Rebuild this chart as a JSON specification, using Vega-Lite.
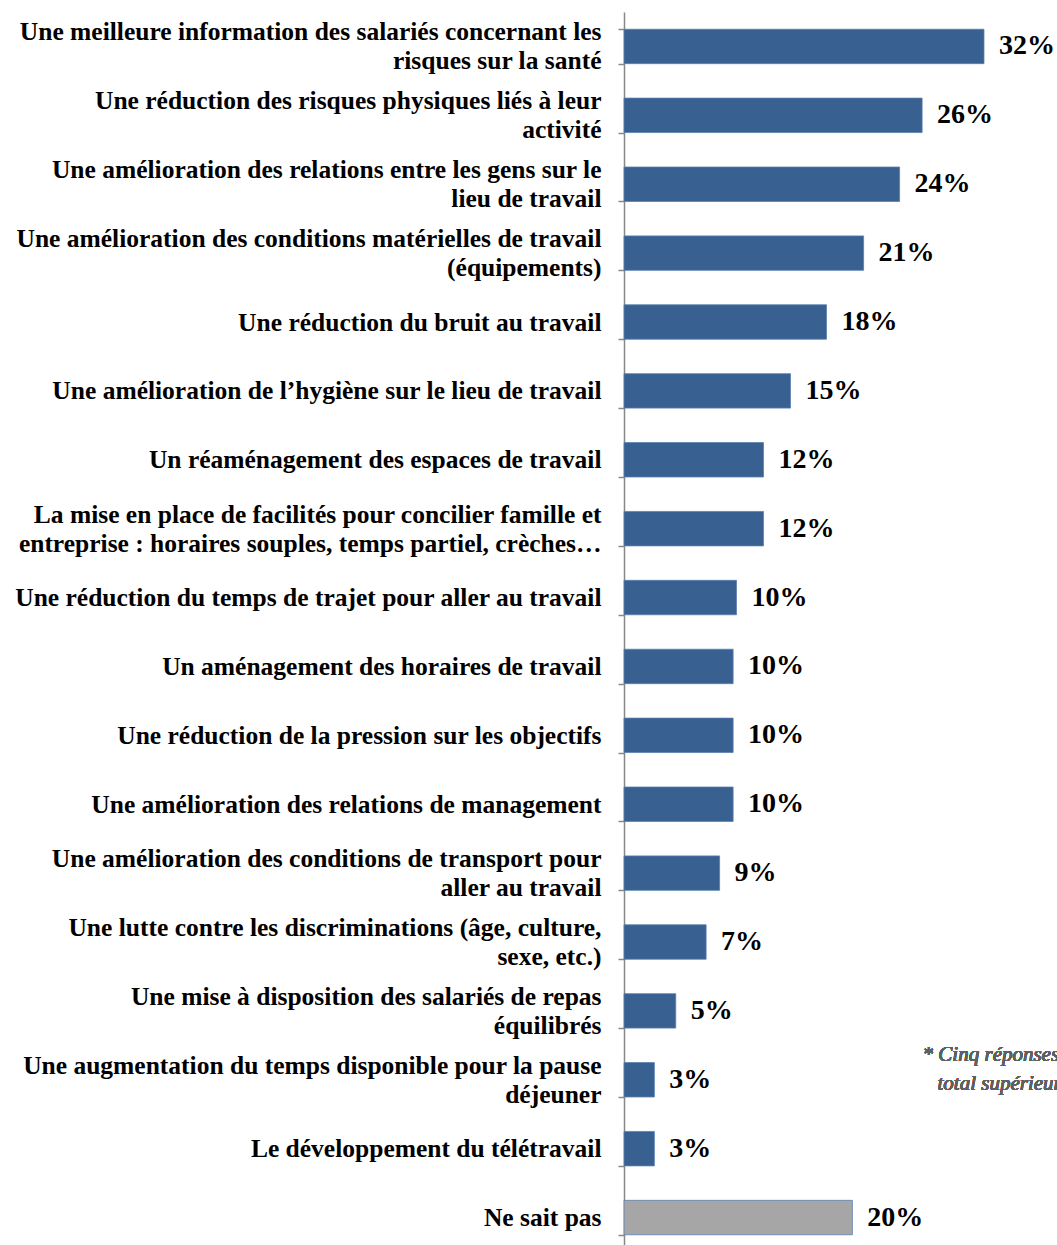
{
  "$schema": "https://vega.github.io/schema/vega-lite/v6.json",
  "autosize": {"type": "none"},
  "padding": {"left": 624, "top": 12, "right": 0, "bottom": 0},
  "width": 433,
  "height": 1233,
  "background": "white",
  "config": {"view": {"stroke": null}},
  "data": {
    "values": [
      {"cat": "Une meilleure information des salariés concernant les|risques sur la santé", "value": 32.0, "label": "32%", "type": "item"},
      {"cat": "Une réduction des risques physiques liés à leur|activité", "value": 26.5, "label": "26%", "type": "item"},
      {"cat": "Une amélioration des relations entre les gens sur le|lieu de travail", "value": 24.5, "label": "24%", "type": "item"},
      {"cat": "Une amélioration des conditions matérielles de travail|(équipements)", "value": 21.3, "label": "21%", "type": "item"},
      {"cat": "Une réduction du bruit au travail", "value": 18.0, "label": "18%", "type": "item"},
      {"cat": "Une amélioration de l’hygiène sur le lieu de travail", "value": 14.8, "label": "15%", "type": "item"},
      {"cat": "Un réaménagement des espaces de travail", "value": 12.4, "label": "12%", "type": "item"},
      {"cat": "La mise en place de facilités pour concilier famille et|entreprise : horaires souples, temps partiel, crèches…", "value": 12.4, "label": "12%", "type": "item"},
      {"cat": "Une réduction du temps de trajet pour aller au travail", "value": 10.0, "label": "10%", "type": "item"},
      {"cat": "Un aménagement des horaires de travail", "value": 9.7, "label": "10%", "type": "item"},
      {"cat": "Une réduction de la pression sur les objectifs", "value": 9.7, "label": "10%", "type": "item"},
      {"cat": "Une amélioration des relations de management", "value": 9.7, "label": "10%", "type": "item"},
      {"cat": "Une amélioration des conditions de transport pour|aller au travail", "value": 8.5, "label": "9%", "type": "item"},
      {"cat": "Une lutte contre les discriminations (âge, culture,|sexe, etc.)", "value": 7.3, "label": "7%", "type": "item"},
      {"cat": "Une mise à disposition des salariés de repas|équilibrés", "value": 4.6, "label": "5%", "type": "item"},
      {"cat": "Une augmentation du temps disponible pour la pause|déjeuner", "value": 2.7, "label": "3%", "type": "item"},
      {"cat": "Le développement du télétravail", "value": 2.7, "label": "3%", "type": "item"},
      {"cat": "Ne sait pas", "value": 20.3, "label": "20%", "type": "nsp"}
    ]
  },
  "encoding": {
    "y": {
      "field": "cat", "type": "nominal", "sort": null,
      "scale": {"range": [0, 1240], "paddingInner": 0.5, "paddingOuter": 0.25},
      "axis": {
        "title": null,
        "labelExpr": "split(datum.label, '|')",
        "labelFont": "Liberation Serif", "labelFontWeight": "bold", "labelFontSize": 25.5,
        "labelColor": "#000000", "labelLineHeight": 29, "labelLimit": 700,
        "labelPadding": 17, "labelAlign": "right",
        "labelOffset": {"condition": {"test": "indexof(datum.label, '|') >= 0", "value": -14.5}, "value": 0},
        "domainColor": "#888888", "domainWidth": 1.5,
        "tickColor": "#888888", "tickWidth": 1.5, "tickSize": 6, "tickBand": "extent",
        "grid": false
      }
    },
    "x": {
      "field": "value", "type": "quantitative",
      "scale": {"domain": [0, 38.49], "nice": false, "zero": true},
      "axis": null
    }
  },
  "layer": [
    {
      "mark": {"type": "bar", "stroke": "#5a7fae", "strokeWidth": 0.8},
      "encoding": {
        "color": {"field": "type", "type": "nominal", "legend": null,
          "scale": {"domain": ["item", "nsp"], "range": ["#386090", "#a6a6a6"]}}
      }
    },
    {
      "mark": {"type": "text", "align": "left", "baseline": "middle", "dx": 15, "font": "Liberation Serif", "fontWeight": "bold", "fontSize": 28, "color": "#000000"},
      "encoding": {"text": {"field": "label", "type": "nominal"}}
    },
    {
      "mark": {"type": "text", "align": "center", "baseline": "middle", "dy": -25, "font": "Liberation Serif", "fontStyle": "italic", "fontSize": 21, "lineHeight": 29, "color": "#606060"},
      "encoding": {
        "x": {"datum": 36.5},
        "y": {"datum": "Une augmentation du temps disponible pour la pause|déjeuner"},
        "text": {"value": ["* Cinq réponses possibles,", "total supérieur à 100%"]}
      }
    }
  ]
}
